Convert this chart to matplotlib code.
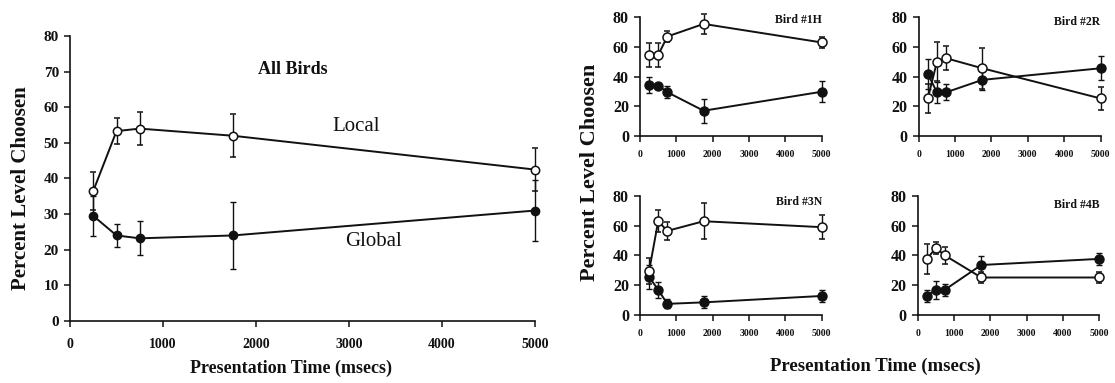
import matplotlib
matplotlib.use("Agg")
import matplotlib.pyplot as plt
import numpy as np

plt.rcParams['font.family'] = ['Liberation Serif', 'DejaVu Serif']

# ---- data ----
times = [250, 500, 750, 1750, 5000]

all_local = [36.5, 53.3, 54.0, 52.0, 42.5]
all_local_err = [5.3, 3.7, 4.7, 6.0, 6.0]
all_global = [29.5, 24.0, 23.2, 24.0, 31.0]
all_global_err = [5.7, 3.2, 4.8, 9.5, 8.5]

bird_names = ["Bird #1H", "Bird #2R", "Bird #3N", "Bird #4B"]
bird_local = [
    [54.5, 54.5, 67.0, 75.5, 63.0],
    [25.3, 50.0, 52.4, 45.6, 25.3],
    [29.5, 63.0, 56.5, 63.0, 59.0],
    [37.5, 45.0, 40.0, 25.2, 25.2],
]
bird_local_err = [
    [8.0, 8.0, 3.5, 6.5, 3.5],
    [10.0, 13.0, 8.0, 14.0, 8.0],
    [9.0, 7.5, 6.0, 12.0, 8.0],
    [10.0, 4.0, 6.0, 4.0, 4.0],
]
bird_global = [
    [34.3, 34.0, 29.5, 17.0, 29.8],
    [41.8, 29.4, 29.4, 37.8, 45.6],
    [25.5, 17.0, 7.5, 8.5, 12.8],
    [13.0, 17.0, 17.0, 33.6, 37.7],
]
bird_global_err = [
    [5.5, 1.0, 4.0, 8.0, 7.0],
    [10.0, 7.0, 5.5, 7.0, 8.0],
    [8.0, 5.5, 3.0, 4.0, 4.0],
    [4.0, 6.0, 4.0, 6.0, 4.0],
]

x_ticks = [0, 1000, 2000, 3000, 4000, 5000]

# ---- figure ----
fig = plt.figure(figsize=(11.15, 3.83), dpi=100)
ink = '#111111'

def style(ax, ytick_step, ysize, xsize, xpad):
    for s in ['top', 'right']:
        ax.spines[s].set_visible(False)
    for s in ['left', 'bottom']:
        ax.spines[s].set_color(ink)
        ax.spines[s].set_linewidth(1.2)
    ax.set_xlim(0, 5000)
    ax.set_ylim(0, 80)
    ax.set_xticks(x_ticks)
    ax.set_yticks(np.arange(0, 81, ytick_step))
    ax.tick_params(axis='y', direction='out', length=4, width=1.1,
                   labelsize=ysize, colors=ink, pad=4)
    ax.tick_params(axis='x', direction='out', length=4, width=1.1,
                   labelsize=xsize, colors=ink, pad=xpad)
    for lab in ax.get_xticklabels() + ax.get_yticklabels():
        lab.set_fontweight('bold')

def draw(ax, loc, loc_err, glo, glo_err, ms):
    ax.errorbar(times, glo, yerr=glo_err, color=ink, lw=1.4, marker='o',
                ms=ms, mfc=ink, mec=ink, capsize=2.5, elinewidth=1.0,
                capthick=1.0, clip_on=False, zorder=3)
    ax.errorbar(times, loc, yerr=loc_err, color=ink, lw=1.4, marker='o',
                ms=ms, mfc='white', mec=ink, mew=1.1, capsize=2.5,
                elinewidth=1.0, capthick=1.0, clip_on=False, zorder=4)

# main panel
ax0 = fig.add_axes([0.0628, 0.162, 0.417, 0.744])
style(ax0, 10, 11, 10, 8)
draw(ax0, all_local, all_local_err, all_global, all_global_err, 6)
ax0.text(2400, 70.5, "All Birds", fontsize=13, fontweight='bold',
         ha='center', va='center', color=ink)
ax0.text(3080, 54.5, "Local", fontsize=15, ha='center', va='center', color=ink)
ax0.text(3260, 22.2, "Global", fontsize=15, ha='center', va='center', color=ink)

fig.text(0.261, 0.038, "Presentation Time (msecs)", fontsize=13,
         fontweight='bold', ha='center', va='center', color=ink)
fig.text(0.019, 0.509, "Percent Level Choosen", rotation=90, fontsize=15,
         fontweight='bold', ha='center', va='center', color=ink)

# bird panels
positions = [
    [0.574, 0.645, 0.163, 0.310],
    [0.824, 0.645, 0.163, 0.310],
    [0.574, 0.1775, 0.163, 0.311],
    [0.823, 0.1775, 0.163, 0.311],
]
label_y = [78, 77, 76, 74]
for i in range(4):
    ax = fig.add_axes(positions[i])
    style(ax, 20, 11.5, 7, 6)
    draw(ax, bird_local[i], bird_local_err[i], bird_global[i],
         bird_global_err[i], 6.5)
    ax.text(5000, label_y[i], bird_names[i], fontsize=8.5, fontweight='bold',
            ha='right', va='center', color=ink)

fig.text(0.529, 0.551, "Percent Level Choosen", rotation=90, fontsize=16,
         fontweight='bold', ha='center', va='center', color=ink)
fig.text(0.785, 0.044, "Presentation Time (msecs)", fontsize=13.5,
         fontweight='bold', ha='center', va='center', color=ink)

fig.savefig("out.png", dpi=100)
